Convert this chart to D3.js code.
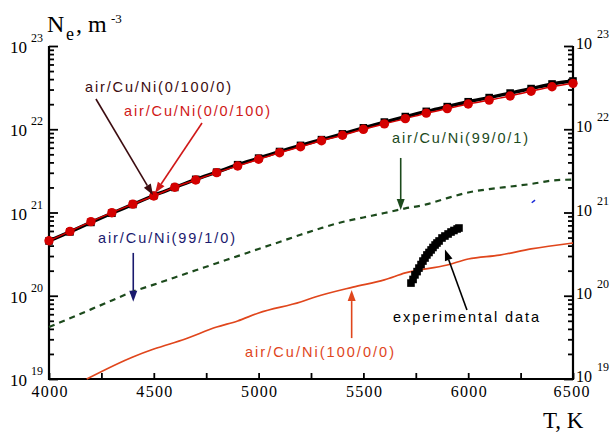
<!DOCTYPE html>
<html>
<head>
<meta charset="utf-8">
<script src="https://cdn.jsdelivr.net/npm/d3@7"></script>
<style>
  html, body { margin: 0; padding: 0; background: #fff; }
  svg { display: block; }
  .serif { font-family: "Liberation Serif", "Times New Roman", serif; }
  .sans  { font-family: "Liberation Sans", Arial, sans-serif; }
</style>
</head>
<body>
<svg id="chart" width="613" height="432"></svg>
<script>
'use strict';

// ── Data ───────────────────────────────────────────────────────────────────
const calcTemp = [4000, 4100, 4200, 4300, 4400, 4500, 4600, 4700, 4800, 4900, 5000, 5100, 5200,
                  5300, 5400, 5500, 5600, 5700, 5800, 5900, 6000, 6100, 6200, 6300, 6400, 6500];

// air/Cu/Ni(0/0/100) – red circles
const niPure = [4.58e20, 5.94e20, 7.76e20, 9.95e20, 1.26e21, 1.58e21, 2.01e21, 2.46e21, 3.01e21,
                3.62e21, 4.36e21, 5.23e21, 6.17e21, 7.28e21, 8.46e21, 9.98e21, 1.16e22, 1.34e22,
                1.56e22, 1.77e22, 2.01e22, 2.24e22, 2.51e22, 2.86e22, 3.24e22, 3.56e22];

// air/Cu/Ni(0/100/0) – black squares
const cuPure = [4.55e20, 5.85e20, 7.6e20, 9.8e20, 1.25e21, 1.6e21, 2.0e21, 2.5e21, 3.05e21,
                3.75e21, 4.5e21, 5.4e21, 6.4e21, 7.5e21, 8.8e21, 1.04e22, 1.22e22, 1.42e22,
                1.64e22, 1.87e22, 2.14e22, 2.4e22, 2.72e22, 3.08e22, 3.5e22, 3.8e22];

// air/Cu/Ni(99/0/1) – dashed green
const airNi = [4.22e19, 5.37e19, 6.86e19, 8.77e19, 1.12e20, 1.36e20, 1.66e20, 2.02e20, 2.46e20,
               2.99e20, 3.65e20, 4.43e20, 5.40e20, 6.51e20, 7.69e20, 8.71e20, 9.86e20, 1.12e21,
               1.25e21, 1.49e21, 1.74e21, 1.91e21, 2.05e21, 2.20e21, 2.42e21, 2.49e21];

// air/Cu/Ni(99/1/0) – only a tiny fragment is visible
const airCuTemp = [6303, 6319];
const airCuVals = [1.31e21, 1.41e21];

// air/Cu/Ni(100/0/0) – orange line
const airTemp = [4180, 4400, 4500, 4650, 4800, 4900, 5000, 5200, 5270, 5450, 5600, 5700, 5900,
                 6000, 6150, 6300, 6500];
const airVals = [1.0e19, 1.84e19, 2.29e19, 3.02e19, 4.21e19, 4.98e19, 6.21e19, 8.41e19, 9.66e19,
                 1.27e20, 1.55e20, 1.88e20, 2.34e20, 2.76e20, 3.08e20, 3.65e20, 4.30e20];

// experimental data
const expTemp = [5727, 5737, 5746, 5756, 5765, 5775, 5784, 5794, 5803, 5813, 5823, 5832, 5842,
                 5851, 5861, 5875, 5889, 5904, 5918, 5932, 5947, 5956];
const expVals = [1.42e20, 1.57e20, 1.78e20, 1.95e20, 2.15e20, 2.37e20, 2.61e20, 2.84e20, 3.09e20,
                 3.31e20, 3.55e20, 3.80e20, 4.07e20, 4.30e20, 4.55e20, 4.94e20, 5.22e20, 5.52e20,
                 5.83e20, 6.08e20, 6.34e20, 6.51e20];

const xTicks  = [4000, 4250, 4500, 4750, 5000, 5250, 5500, 5750, 6000, 6250, 6500];
const xLabels = [4000, 4500, 5000, 5500, 6000, 6500];
const yExps   = [19, 20, 21, 22, 23];

// ── Layout ─────────────────────────────────────────────────────────────────
const L = 49, R = 573, T = 46, B = 379;

const svg = d3.select('#chart');
const x = d3.scaleLinear().domain([4000, 6500]).range([L, R]);
const y = d3.scaleLog().domain([1e19, 1e23]).range([B, T]);

// ── Axes ───────────────────────────────────────────────────────────────────
const yMajor = yExps.map(e => Math.pow(10, e));
const yMinor = [];
yExps.slice(0, -1).forEach(e => {
  for (let m = 2; m <= 9; m++) yMinor.push(m * Math.pow(10, e));
});

function styleAxis(g) {
  g.select('.domain').remove();
  g.selectAll('line').attr('stroke', '#000').attr('stroke-width', 1.8);
}

svg.append('g').attr('transform', `translate(${L},0)`)
  .call(d3.axisLeft(y).tickValues(yMinor).tickSize(-5).tickFormat('')).call(styleAxis);
svg.append('g').attr('transform', `translate(${L},0)`)
  .call(d3.axisLeft(y).tickValues(yMajor).tickSize(-9).tickFormat('')).call(styleAxis);
svg.append('g').attr('transform', `translate(${R},0)`)
  .call(d3.axisRight(y).tickValues(yMinor).tickSize(-5).tickFormat('')).call(styleAxis);
svg.append('g').attr('transform', `translate(${R},0)`)
  .call(d3.axisRight(y).tickValues(yMajor).tickSize(-9).tickFormat('')).call(styleAxis);

const xAxis = svg.append('g').attr('transform', `translate(0,${B})`)
  .call(d3.axisBottom(x).tickValues(xTicks).tickSize(-6).tickPadding(7)
    .tickFormat(d => xLabels.includes(d) ? String(d) : ''));
xAxis.call(styleAxis);
xAxis.attr('font-family', null).attr('font-size', null);
xAxis.selectAll('text')
  .style('font-family', '"Liberation Serif", "Times New Roman", serif')
  .style('font-size', '16px').attr('fill', '#000')
  .attr('dx', d => d === 6500 ? -2 : 0)
  .attr('textLength', d => xLabels.includes(d) ? 36 : null)
  .attr('lengthAdjust', 'spacing');

// axis lines
svg.append('path')
  .attr('d', `M${L},${T}V${B}H${R}V${T}`)
  .attr('fill', 'none').attr('stroke', '#000').attr('stroke-width', 2.2);

// y tick labels  10^n on both sides
yExps.forEach(e => {
  const yy = y(Math.pow(10, e));
  svg.append('text').attr('class', 'serif').attr('x', 10).attr('y', yy + 7)
    .style('font-size', '17px').text('10');
  svg.append('text').attr('class', 'serif').attr('x', 31).attr('y', yy - 4)
    .style('font-size', '12px').text(e);
  svg.append('text').attr('class', 'serif').attr('x', 576).attr('y', yy + 3)
    .style('font-size', '16px').text('10');
  svg.append('text').attr('class', 'serif').attr('x', 597).attr('y', yy - 8)
    .style('font-size', '12px').text(e);
});

// axis titles
const yTitle = svg.append('text').attr('class', 'serif').attr('fill', '#000');
yTitle.append('tspan').attr('x', 47).attr('y', 32).style('font-size', '24px').text('N');
yTitle.append('tspan').attr('x', 66).attr('y', 40).style('font-size', '18px').text('e');
yTitle.append('tspan').attr('x', 76).attr('y', 32).style('font-size', '24px').text(', m');
yTitle.append('tspan').attr('x', 111).attr('y', 23).style('font-size', '13px').text('-3');

svg.append('text').attr('class', 'serif').attr('x', 543).attr('y', 428)
  .style('font-size', '23px').text('T, K');

// ── Series ─────────────────────────────────────────────────────────────────
const mkLine = d3.line().x(d => x(d[0])).y(d => y(d[1])).curve(d3.curveMonotoneX);
const zip = (a, b) => a.map((v, i) => [v, b[i]]);

// air/Cu/Ni(100/0/0)
svg.append('path').datum(zip(airTemp, airVals))
  .attr('d', mkLine).attr('fill', 'none').attr('stroke', '#e0461c').attr('stroke-width', 1.7);

// air/Cu/Ni(99/0/1)
svg.append('path').datum(zip(calcTemp, airNi))
  .attr('d', mkLine).attr('fill', 'none').attr('stroke', '#1c4a1c')
  .attr('stroke-width', 2.2).attr('stroke-dasharray', '6,5');

// air/Cu/Ni(99/1/0)
svg.append('path').datum(zip(airCuTemp, airCuVals))
  .attr('d', mkLine).attr('fill', 'none').attr('stroke', '#1a2ad8').attr('stroke-width', 1.5);

// air/Cu/Ni(0/100/0)
const cuData = zip(calcTemp, cuPure);
svg.append('path').datum(cuData)
  .attr('d', mkLine).attr('fill', 'none').attr('stroke', '#000').attr('stroke-width', 3.4);
svg.append('g').selectAll('rect').data(cuData).join('rect')
  .attr('x', d => x(d[0]) - 3.8).attr('y', d => y(d[1]) - 3.8)
  .attr('width', 7.6).attr('height', 7.6).attr('fill', '#000');

// air/Cu/Ni(0/0/100)
const niData = zip(calcTemp, niPure);
svg.append('path').datum(niData)
  .attr('d', mkLine).attr('fill', 'none').attr('stroke', '#d40000').attr('stroke-width', 1.5);
svg.append('g').selectAll('circle').data(niData).join('circle')
  .attr('cx', d => x(d[0])).attr('cy', d => y(d[1])).attr('r', 4.7)
  .attr('fill', '#d40000');

// experimental data
svg.append('g').selectAll('rect').data(zip(expTemp, expVals)).join('rect')
  .attr('x', d => x(d[0]) - 3.8).attr('y', d => y(d[1]) - 3.8)
  .attr('width', 7.6).attr('height', 7.6).attr('fill', '#000');

// ── Annotations (arrows in data coordinates) ───────────────────────────────
const notes = [
  { text: 'air/Cu/Ni(0/100/0)', color: '#3c0c10', tx: 85,  ty: 92,  w: 146, from: [4224, 2.31e22], to: [4496, 1.62e21] },
  { text: 'air/Cu/Ni(0/0/100)', color: '#d01818', tx: 124, ty: 116, w: 146, from: [4730, 1.19e22], to: [4506, 1.71e21] },
  { text: 'air/Cu/Ni(99/0/1)',  color: '#1c4a1c', tx: 392, ty: 143, w: 136, from: [5678, 4.52e21], to: [5678, 1.07e21] },
  { text: 'air/Cu/Ni(99/1/0)',  color: '#1a1a6e', tx: 98,  ty: 243, w: 137, from: [4402, 3.27e20], to: [4402, 8.5e19] },
  { text: 'experimental data',  color: '#000',    tx: 393, ty: 322, w: 146, from: [5994, 6.74e19], to: [5889, 3.6e20] },
  { text: 'air/Cu/Ni(100/0/0)', color: '#e0461c', tx: 245, ty: 357, w: 149, from: [5444, 3.1e19], to: [5444, 1.17e20] },
];

notes.forEach(n => {
  svg.append('text').attr('class', 'sans').attr('x', n.tx).attr('y', n.ty)
    .style('font-size', '14.5px')
    .attr('textLength', n.w).attr('lengthAdjust', 'spacing')
    .attr('fill', n.color).text(n.text);

  const x0 = x(n.from[0]), y0 = y(n.from[1]);
  const x1 = x(n.to[0]),   y1 = y(n.to[1]);
  const ang = Math.atan2(y1 - y0, x1 - x0);
  const len = 11, hw = 4;
  const bx = x1 - len * Math.cos(ang), by = y1 - len * Math.sin(ang);
  svg.append('line').attr('x1', x0).attr('y1', y0).attr('x2', bx).attr('y2', by)
    .attr('stroke', n.color).attr('stroke-width', 1.6);
  const px = -Math.sin(ang) * hw, py = Math.cos(ang) * hw;
  svg.append('path')
    .attr('d', `M${x1},${y1}L${bx + px},${by + py}L${bx - px},${by - py}Z`)
    .attr('fill', n.color);
});
</script>
</body>
</html>
